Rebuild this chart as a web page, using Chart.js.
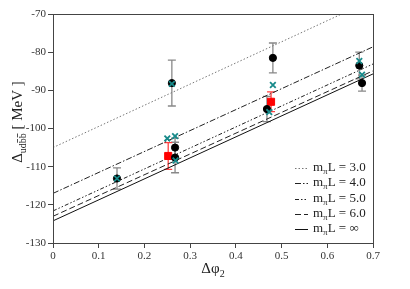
<!DOCTYPE html>
<html><head><meta charset="utf-8">
<script src="https://cdn.jsdelivr.net/npm/chart.js@4/dist/chart.umd.min.js"></script>
<style>html,body{margin:0;padding:0;background:#fff}#w{width:410px;height:289px}</style>
</head><body><div id="w"><canvas id="c"></canvas></div>
<script>
// fit lines (value at x=0 and x=0.7)
const lineX = [0, 0.7];
const fit30 = [-105.0, -66.2];
const fit40 = [-117.0, -78.6];
const fit50 = [-121.6, -83.1];
const fit60 = [-123.0, -84.9];
const fitInf = [-124.2, -85.7];
const fitLabels = ["3.0", "4.0", "5.0", "6.0", "\u221E"];

// black circles with grey error bars
const blackX = [0.14, 0.26, 0.267, 0.267, 0.468, 0.481, 0.670, 0.676];
const blackY = [-113.1, -88.1, -105.0, -107.6, -94.9, -81.5, -83.5, -88.1];
const blackErr = [2.8, 6.0, 2.5, 4.0, 3.3, 3.9, 3.5, 2.1];

// teal crosses
const tealX = [0.14, 0.26, 0.25, 0.267, 0.268, 0.473, 0.481, 0.670, 0.676];
const tealY = [-113.1, -88.3, -102.6, -102.0, -108.4, -95.7, -88.6, -82.3, -85.9];

// red squares with red error bars
const redX = [0.252, 0.477];
const redY = [-107.2, -93.0];
const redErr = [3.5, 2.6];

const xTicks = [0, 0.1, 0.2, 0.3, 0.4, 0.5, 0.6, 0.7];
const yTicks = [-130, -120, -110, -100, -90, -80, -70];

const SERIF = '"Liberation Serif", "DejaVu Serif", serif';
const pts = (xs, ys) => xs.map((x, i) => ({x: x, y: ys[i]}));

const fitStyles = [
  {color: '#777', dash: [1.5, 2]},
  {color: '#222', dash: [6, 2, 1.5, 2]},
  {color: '#222', dash: [4, 2, 1.5, 2, 1.5, 2]},
  {color: '#222', dash: [6, 3]},
  {color: '#111', dash: []}
];
const fits = [fit30, fit40, fit50, fit60, fitInf];

const lineSets = fits.map((f, i) => ({
  type: 'line', data: pts(lineX, f), borderColor: fitStyles[i].color,
  borderDash: fitStyles[i].dash, borderWidth: 1, pointRadius: 0, fill: false, order: 10 + i
}));

const errPlugin = {
  id: 'err',
  beforeDatasetsDraw(chart) {
    const {ctx, scales: {x, y}} = chart;
    ctx.save();
    ctx.lineWidth = 1.3;
    const draw = (xs, ys, es, col) => {
      ctx.strokeStyle = col;
      xs.forEach((xv, i) => {
        const px = x.getPixelForValue(xv);
        const t = y.getPixelForValue(ys[i] + es[i]);
        const b = y.getPixelForValue(ys[i] - es[i]);
        ctx.beginPath();
        ctx.moveTo(px, t); ctx.lineTo(px, b);
        ctx.moveTo(px - 4, t); ctx.lineTo(px + 4, t);
        ctx.moveTo(px - 4, b); ctx.lineTo(px + 4, b);
        ctx.stroke();
      });
    };
    draw(blackX, blackY, blackErr, '#888');
    draw(redX, redY, redErr, '#ff4040');
    ctx.restore();
  }
};

const decoPlugin = {
  id: 'deco',
  afterDraw(chart) {
    const {ctx, chartArea: a} = chart;
    ctx.save();
    ctx.strokeStyle = '#444';
    ctx.lineWidth = 1;
    ctx.strokeRect(a.left + 0.5, a.top + 0.5, a.right - a.left, a.bottom - a.top);

    // legend
    const rows = [168, 183, 199, 214, 229];
    ctx.fillStyle = '#222';
    ctx.textBaseline = 'middle';
    rows.forEach((ry, i) => {
      ctx.beginPath();
      ctx.strokeStyle = fitStyles[i].color;
      ctx.setLineDash(fitStyles[i].dash);
      ctx.moveTo(295, ry + 0.5); ctx.lineTo(308, ry + 0.5);
      ctx.stroke();
      ctx.setLineDash([]);
      let tx = 313;
      ctx.font = '13px ' + SERIF;
      ctx.fillText('m', tx, ry); tx += ctx.measureText('m').width;
      ctx.font = '9px ' + SERIF;
      ctx.fillText('\u03C0', tx, ry + 4); tx += ctx.measureText('\u03C0').width;
      ctx.font = '13px ' + SERIF;
      ctx.fillText('L = ' + fitLabels[i], tx, ry);
    });

    // x title
    ctx.fillStyle = '#222';
    ctx.textBaseline = 'alphabetic';
    ctx.font = '15px ' + SERIF;
    let w1 = ctx.measureText('\u0394\u03C6').width;
    ctx.font = '10px ' + SERIF;
    let w2 = ctx.measureText('2').width;
    let sx = (a.left + a.right) / 2 - (w1 + w2) / 2;
    ctx.font = '15px ' + SERIF;
    ctx.fillText('\u0394\u03C6', sx, 273);
    ctx.font = '10px ' + SERIF;
    ctx.fillText('2', sx + w1, 277);

    // y title (rotated)
    ctx.translate(22, 122);
    ctx.rotate(-Math.PI / 2);
    ctx.font = '15px ' + SERIF;
    const d = '\u0394', m = ' [ MeV ]';
    const wd = ctx.measureText(d).width, wm = ctx.measureText(m).width;
    ctx.font = '10px ' + SERIF;
    const wud = ctx.measureText('ud').width, wbb = ctx.measureText('bb').width;
    const total = wd + wud + wbb + wm;
    let p = -total / 2;
    ctx.font = '15px ' + SERIF;
    ctx.fillText(d, p, 0); p += wd;
    ctx.font = '10px ' + SERIF;
    ctx.fillText('ud', p, 4); p += wud;
    ctx.fillText('bb', p, 4);
    ctx.beginPath();
    ctx.strokeStyle = '#222';
    ctx.lineWidth = 0.8;
    ctx.moveTo(p + 0.5, -4.5); ctx.lineTo(p + wbb / 2 - 0.8, -4.5);
    ctx.moveTo(p + wbb / 2 + 0.8, -4.5); ctx.lineTo(p + wbb - 0.3, -4.5);
    ctx.stroke();
    p += wbb;
    ctx.font = '15px ' + SERIF;
    ctx.fillText(m, p, 0);
    ctx.restore();
  }
};

new Chart(document.getElementById('c'), {
  type: 'scatter',
  data: {
    datasets: [
      {data: pts(tealX, tealY), pointStyle: 'crossRot', pointRadius: 4, borderColor: '#178a8a',
       backgroundColor: '#178a8a', pointBorderWidth: 1.8, order: 0},
      {data: pts(blackX, blackY), pointStyle: 'circle', pointRadius: 3.6, borderColor: '#000',
       backgroundColor: '#000', order: 1},
      {data: pts(redX, redY), pointStyle: 'rect', pointRadius: 5, borderColor: '#ff0000',
       backgroundColor: '#ff0000', order: 2},
      ...lineSets
    ]
  },
  options: {
    responsive: true, maintainAspectRatio: false, animation: false,
    layout: {padding: {top: 14, right: 37, left: 0, bottom: 0}},
    plugins: {legend: {display: false}, tooltip: {enabled: false}},
    scales: {
      x: {
        type: 'linear', min: 0, max: 0.7,
        afterBuildTicks: s => { s.ticks = xTicks.map(v => ({value: v})); },
        afterFit: s => { s.height = 46; },
        ticks: {font: {family: SERIF, size: 11}, color: '#333', padding: 2, maxRotation: 0,
                callback: v => String(Math.round(v * 10) / 10)},
        grid: {drawOnChartArea: false, tickLength: 5, color: '#444'},
        border: {color: '#444'}
      },
      y: {
        type: 'linear', min: -130, max: -70,
        afterBuildTicks: s => { s.ticks = yTicks.map(v => ({value: v})); },
        afterFit: s => { s.width = 53; },
        ticks: {font: {family: SERIF, size: 11}, color: '#333', padding: 2,
                callback: v => String(v)},
        grid: {drawOnChartArea: false, tickLength: 5, color: '#444'},
        border: {color: '#444'}
      }
    }
  },
  plugins: [errPlugin, decoPlugin]
});
</script></body></html>
